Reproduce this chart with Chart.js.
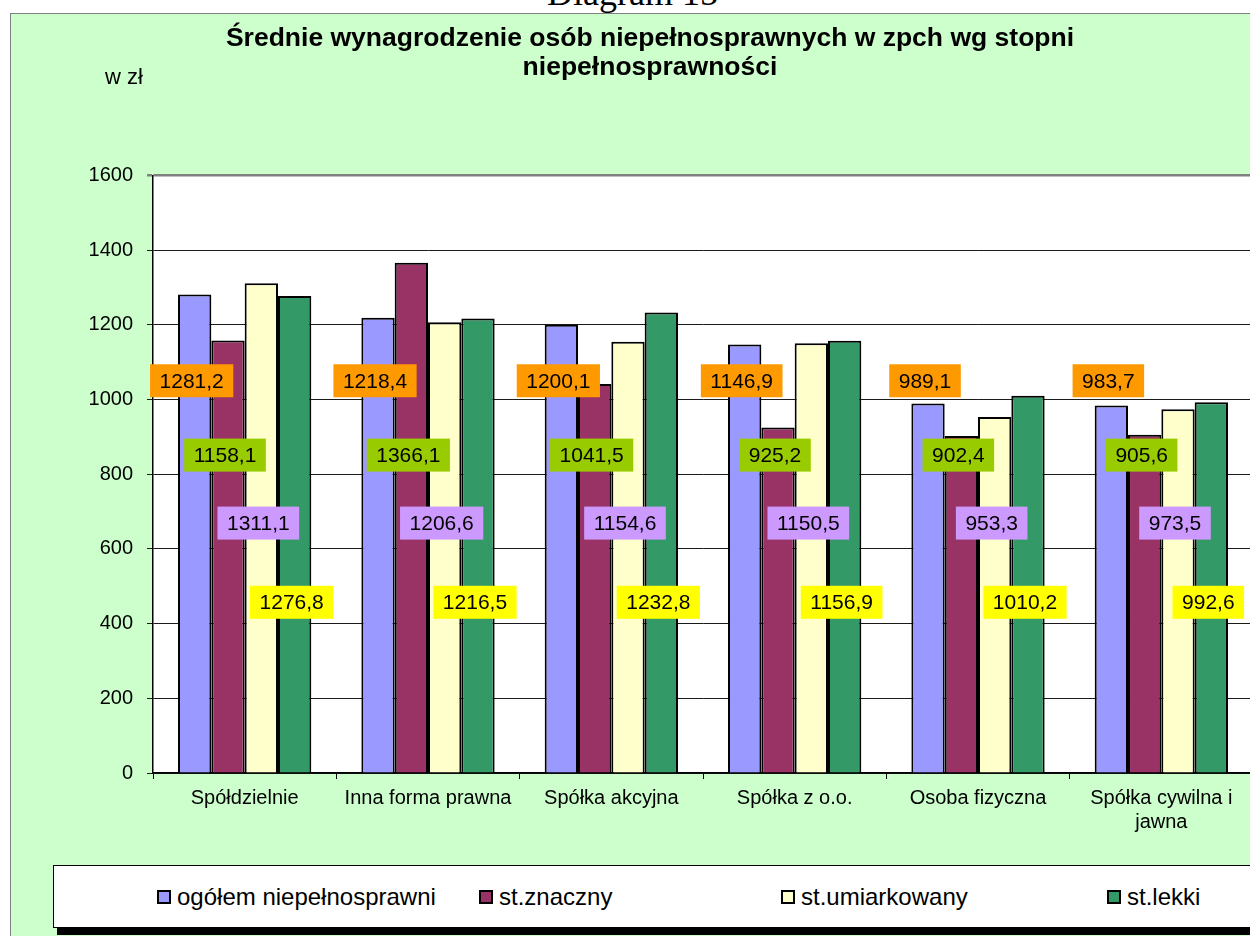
<!DOCTYPE html>
<html>
<head>
<meta charset="utf-8">
<script src="https://cdn.jsdelivr.net/npm/chart.js"></script>
<style>
  html, body { margin: 0; padding: 0; background: #fff; overflow: hidden; width: 1250px; height: 936px; }
  #diag { position: absolute; left: 547px; top: -25px; font: 36px 'Liberation Serif', 'Times New Roman', serif; line-height: 36px; color: #000; white-space: nowrap; }
  #panel { position: absolute; left: 10px; top: 13px; width: 1300px; height: 1000px; background: #CCFFCC; border: 1px solid #808080; }
  #wrap { position: absolute; left: 0; top: 0; width: 1260px; height: 860px; }
  #unit { position: absolute; left: 105px; top: 66px; font: 22px 'Liberation Sans', Arial, sans-serif; line-height: 22px; color: #000; }
  #legend { position: absolute; left: 53px; top: 865px; width: 1300px; height: 61px; background: #fff; border: 1px solid #000; box-shadow: 4px 7px 0 0 #000; font: 24px 'Liberation Sans', Arial, sans-serif; color: #000; }
  .item { position: absolute; top: 0; height: 61px; display: flex; align-items: center; white-space: nowrap; }
  .sw { width: 10px; height: 10px; border: 2px solid #000; margin-right: 6px; }
</style>
</head>
<body>
<div id="diag">Diagram 15</div>
<div id="panel"></div>
<div id="wrap"><canvas id="chart" width="1260" height="860"></canvas></div>
<div id="unit">w zł</div>
<div id="legend"></div>
<script>
// dane ------
const categories = ['Spółdzielnie', 'Inna forma prawna', 'Spółka akcyjna', 'Spółka z o.o.', 'Osoba fizyczna', ['Spółka cywilna i', 'jawna']];
const seriesNames = ['ogółem niepełnosprawni', 'st.znaczny', 'st.umiarkowany', 'st.lekki'];
const ogolem = [1281.2, 1218.4, 1200.1, 1146.9, 989.1, 983.7];
const znaczny = [1158.1, 1366.1, 1041.5, 925.2, 902.4, 905.6];
const umiarkowany = [1311.1, 1206.6, 1154.6, 1150.5, 953.3, 973.5];
const lekki = [1276.8, 1216.5, 1232.8, 1156.9, 1010.2, 992.6];
const yTicks = [0, 200, 400, 600, 800, 1000, 1200, 1400, 1600];

const barColors = ['#9999FF', '#993366', '#FFFFCC', '#339966'];
const labelColors = ['#FF9900', '#99CC00', '#CC99FF', '#FFFF00'];
// wysokosc etykiet (w skali osi y), przesuniete jak w oryginale
const labelLevels = [1050, 851, 669, 457];

const FONT = "'Liberation Sans', Arial, sans-serif";
Chart.defaults.font.family = FONT;
Chart.defaults.color = '#000';

const plotBg = {
	id: 'plotBg',
	beforeDraw(chart) {
		const a = chart.chartArea;
		const c = chart.ctx;
		c.save();
		c.fillStyle = '#fff';
		c.fillRect(a.left, a.top, a.right - a.left, a.bottom - a.top);
		c.restore();
	},
};

const boxLabels = {
	id: 'boxLabels',
	afterDatasetsDraw(chart) {
		const c = chart.ctx;
		const y = chart.scales.y;
		c.save();
		c.font = '21px ' + FONT;
		c.textAlign = 'center';
		c.textBaseline = 'middle';
		chart.data.datasets.forEach((ds, i) => {
			const meta = chart.getDatasetMeta(i);
			meta.data.forEach((bar, j) => {
				const txt = ds.data[j].toFixed(1).replace('.', ',');
				const w = c.measureText(txt).width + 19;
				const h = 33;
				const cy = y.getPixelForValue(labelLevels[i]);
				c.fillStyle = labelColors[i];
				c.fillRect(bar.x - 3 - w / 2, cy - h / 2, w, h);
				c.fillStyle = '#000';
				c.fillText(txt, bar.x - 3, cy + 1);
			});
		});
		c.restore();
	},
};

const datasets = [ogolem, znaczny, umiarkowany, lekki].map((d, i) => ({
	label: seriesNames[i],
	data: d,
	backgroundColor: barColors[i],
	borderColor: '#000',
	borderWidth: 2,
	borderSkipped: 'bottom',
	barPercentage: 1,
	categoryPercentage: 0.727,
}));

const chart = new Chart(document.getElementById('chart').getContext('2d'), {
	type: 'bar',
	data: { labels: categories, datasets: datasets },
	plugins: [plotBg, boxLabels],
	options: {
		responsive: false,
		animation: false,
		layout: { padding: { left: 47, right: 7, top: 0, bottom: 0 } },
		plugins: {
			legend: { display: false },
			tooltip: { enabled: false },
			title: {
				display: true,
				text: ['Średnie wynagrodzenie osób niepełnosprawnych w zpch wg stopni', 'niepełnosprawności'],
				font: { size: 26.5, weight: 'bold', lineHeight: 1.1 },
				color: '#000',
				padding: { top: 24, bottom: 93 },
			},
		},
		scales: {
			x: {
				afterFit(s) { s.height = 87; },
				grid: { offset: true, drawOnChartArea: false, color: '#000', tickLength: 6, lineWidth: 1 },
				border: { color: '#000', width: 1.5 },
				ticks: { font: { size: 20 }, color: '#000', maxRotation: 0, autoSkip: false, padding: 7 },
			},
			y: {
				min: 0,
				max: 1600,
				afterFit(s) { s.width = 106; },
				afterBuildTicks(s) { s.ticks = yTicks.map(v => ({ value: v })); },
				grid: {
					color: (ctx) => (ctx.tick && ctx.tick.value === 1600 ? '#808080' : '#1a1a1a'),
					lineWidth: (ctx) => (ctx.tick && ctx.tick.value === 1600 ? 2.5 : 1),
					tickLength: 6,
				},
				border: { color: '#000', width: 1.5 },
				ticks: { font: { size: 20 }, color: '#000', padding: 14, callback: (v) => String(v) },
			},
		},
	},
});

// legenda ------
const legendX = [103, 425, 727, 1053];
const leg = document.getElementById('legend');
chart.data.datasets.forEach((ds, i) => {
	const it = document.createElement('div');
	it.className = 'item';
	it.style.left = legendX[i] + 'px';
	it.innerHTML = '<span class="sw" style="background:' + ds.backgroundColor + '"></span>' + ds.label;
	leg.appendChild(it);
});
</script>
</body>
</html>
